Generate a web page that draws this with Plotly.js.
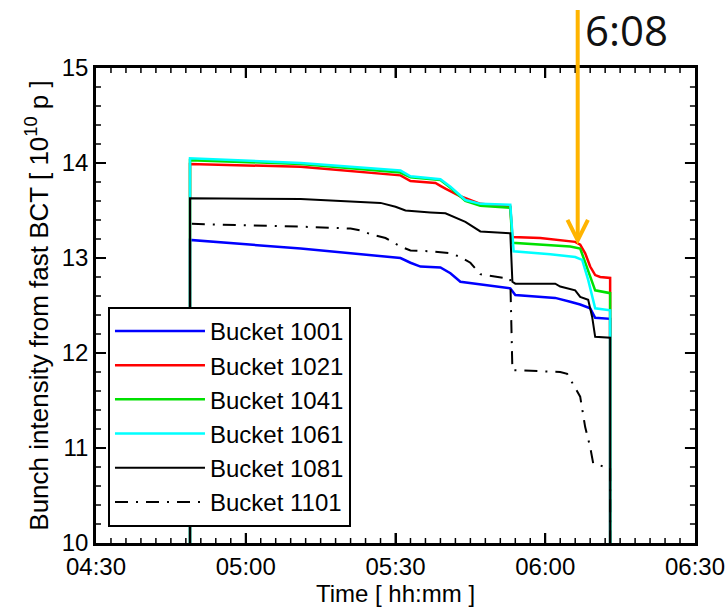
<!DOCTYPE html>
<html>
<head>
<meta charset="utf-8">
<script src="https://cdn.plot.ly/plotly-3.0.1.min.js"></script>
<style>
  html, body { margin: 0; padding: 0; background: #fff; }
  #chart { width: 728px; height: 608px; }
  #chart .modebar-container { display: none !important; }
</style>
</head>
<body>
<div id="chart"></div>
<script>
// Bunch intensities measured by the fast BCT during one fill (times hh:mm:ss).
const day = '2012-06-01 ';

const t1001 = ['04:48:50','04:48:50','05:11:00','05:31:00','05:33:00','05:35:00','05:39:00','05:41:00','05:43:00','05:47:00','05:53:00','05:54:00','06:02:00','06:05:00','06:07:00','06:09:00','06:10:00','06:13:00','06:13:00'];
const v1001 = [0, 13.19, 13.10, 13.00, 12.95, 12.91, 12.90, 12.84, 12.75, 12.72, 12.68, 12.61, 12.58, 12.54, 12.51, 12.47, 12.37, 12.36, 0];

const t1021 = ['04:48:50','04:48:50','05:11:00','05:31:00','05:33:00','05:38:00','05:39:00','05:40:00','05:43:00','05:47:00','05:53:00','05:53:25','05:59:00','06:06:00','06:07:00','06:08:00','06:09:00','06:10:00','06:11:00','06:13:00','06:13:00'];
const v1021 = [0, 13.99, 13.96, 13.87, 13.81, 13.79, 13.76, 13.73, 13.65, 13.57, 13.54, 13.22, 13.21, 13.17, 13.14, 13.05, 12.91, 12.82, 12.80, 12.79, 0];

const t1041 = ['04:48:50','04:48:50','05:11:00','05:31:00','05:33:00','05:39:00','05:41:00','05:44:00','05:47:00','05:53:00','05:53:25','06:05:00','06:07:00','06:08:00','06:09:00','06:10:00','06:13:00','06:13:00'];
const v1041 = [0, 14.03, 13.99, 13.90, 13.85, 13.82, 13.74, 13.60, 13.55, 13.53, 13.16, 13.12, 13.10, 12.95, 12.79, 12.66, 12.63, 0];

const t1061 = ['04:48:50','04:48:50','05:11:00','05:31:00','05:33:00','05:39:00','05:41:00','05:44:00','05:47:00','05:53:00','05:53:40','06:01:00','06:06:00','06:07:24','06:08:36','06:10:00','06:13:00','06:13:00'];
const v1061 = [0, 14.05, 14.00, 13.92, 13.86, 13.83, 13.75, 13.61, 13.57, 13.56, 13.07, 13.04, 13.01, 12.98, 12.77, 12.47, 12.45, 0];

const t1081 = ['04:48:50','04:48:50','05:11:00','05:25:00','05:27:00','05:30:00','05:32:00','05:37:00','05:40:00','05:44:00','05:47:00','05:53:00','05:53:25','05:54:00','06:02:00','06:03:00','06:06:00','06:07:00','06:08:36','06:09:24','06:10:00','06:13:00','06:13:00'];
const v1081 = [0, 13.63, 13.62, 13.59, 13.58, 13.54, 13.50, 13.48, 13.47, 13.38, 13.28, 13.26, 12.75, 12.73, 12.73, 12.70, 12.66, 12.59, 12.56, 12.38, 12.17, 12.16, 0];

const t1101 = ['04:48:50','04:48:50','05:11:00','05:21:00','05:23:00','05:25:00','05:28:00','05:31:00','05:33:00','05:37:00','05:41:00','05:43:00','05:45:00','05:47:00','05:53:00','05:53:25','06:03:00','06:04:24','06:07:00','06:08:00','06:09:00','06:09:36','06:12:00','06:13:00','06:13:00'];
const v1101 = [0, 13.36, 13.33, 13.31, 13.29, 13.25, 13.21, 13.12, 13.08, 13.07, 13.05, 13.01, 12.95, 12.83, 12.78, 11.82, 11.80, 11.78, 11.54, 11.22, 11.01, 10.84, 10.80, 10.79, 0];

const names = ['Bucket 1001','Bucket 1021','Bucket 1041','Bucket 1061','Bucket 1081','Bucket 1101'];
const colors = ['#0000ff','#ff0000','#00e000','#00ffff','#000000','#000000'];
const times = [t1001, t1021, t1041, t1061, t1081, t1101];
const values = [v1001, v1021, v1041, v1061, v1081, v1101];

// Time axis limits and the moment marked by the arrow
const xStart = '04:30:00';
const xEnd = '06:30:00';
const markTime = '06:06:30';
const markValue = 13.14;
const markLabel = '6:08';

// Axis tick steps
const xMajorMin = 30, xMinorMin = 3;
const yMin = 10, yMax = 15, yMajor = 1, yMinor = 0.2;

// Figure geometry
const W = 728, H = 608;
const M = {l: 96, r: 33, t: 68, b: 65};
const plotW = W - M.l - M.r, plotH = H - M.t - M.b;

const sans = '"Liberation Sans", Arial, sans-serif';

const traces = names.map((n, i) => ({
  type: 'scatter',
  mode: 'lines',
  name: n,
  x: times[i].map(t => day + t),
  y: values[i],
  line: {
    color: colors[i],
    width: i >= 4 ? 2 : 2.5,
    dash: i === 5 ? '13px,8px,2px,8px' : 'solid'
  },
  hoverinfo: 'skip'
}));

// Inward tick marks on all four sides of the frame, drawn as short line
// segments in axis units (lengths converted from pixels).
function stamp(ms) {
  return new Date(ms).toISOString().slice(0, 19).replace('T', ' ');
}
const x0ms = Date.parse(day.trim() + 'T' + xStart + 'Z');
const x1ms = Date.parse(day.trim() + 'T' + xEnd + 'Z');
const msPerPx = (x1ms - x0ms) / plotW;
const valPerPx = (yMax - yMin) / plotH;

function tickTrace(major) {
  const len = major ? 10 : 5;
  const xs = [], ys = [];
  const nX = Math.round((x1ms - x0ms) / (xMinorMin * 60000));
  for (let k = 1; k < nX; k++) {
    if (((k * xMinorMin) % xMajorMin === 0) !== major) continue;
    const t = stamp(x0ms + k * xMinorMin * 60000);
    xs.push(t, t, null, t, t, null);
    ys.push(yMin, yMin + len * valPerPx, null, yMax, yMax - len * valPerPx, null);
  }
  const nY = Math.round((yMax - yMin) / yMinor);
  const perMajor = Math.round(yMajor / yMinor);
  for (let k = 1; k < nY; k++) {
    if ((k % perMajor === 0) !== major) continue;
    const v = +(yMin + k * yMinor).toFixed(3);
    xs.push(stamp(x0ms), stamp(x0ms + len * msPerPx), null, stamp(x1ms), stamp(x1ms - len * msPerPx), null);
    ys.push(v, v, null, v, v, null);
  }
  return {
    type: 'scatter', mode: 'lines', x: xs, y: ys,
    line: {color: '#000000', width: major ? 2 : 1.5},
    showlegend: false, hoverinfo: 'skip', connectgaps: false
  };
}
traces.push(tickTrace(false), tickTrace(true));

const layout = {
  width: W,
  height: H,
  margin: M,
  paper_bgcolor: '#ffffff',
  plot_bgcolor: '#ffffff',
  showlegend: true,
  legend: {
    x: 0.02, y: 0.034, xanchor: 'left', yanchor: 'bottom',
    bgcolor: '#ffffff', bordercolor: '#000000', borderwidth: 2,
    font: {family: sans, size: 24, color: '#000'},
    itemwidth: 90,
    tracegroupgap: 0
  },
  xaxis: {
    type: 'date',
    range: [day + xStart, day + xEnd],
    dtick: xMajorMin * 60 * 1000,
    tick0: day + xStart,
    tickformat: '%H:%M',
    ticks: 'inside', ticklen: 10, tickwidth: 2, tickcolor: '#000000',
    showline: true, linewidth: 2.5, linecolor: '#000000', mirror: 'ticks',
    showgrid: false, zeroline: false,
    tickfont: {family: sans, size: 24, color: '#000'},
    title: {text: 'Time [ hh:mm ]', font: {family: sans, size: 24, color: '#000'}, standoff: 6}
  },
  yaxis: {
    range: [yMin, yMax],
    dtick: yMajor,
    ticks: 'inside', ticklen: 10, tickwidth: 2, tickcolor: '#000000',
    showline: true, linewidth: 2.5, linecolor: '#000000', mirror: 'ticks',
    showgrid: false, zeroline: false,
    tickfont: {family: sans, size: 24, color: '#000'},
    title: {text: 'Bunch intensity from fast BCT [ 10<sup>10</sup> p ]', font: {family: sans, size: 26, color: '#000'}, standoff: 6}
  },
  annotations: [
    {
      x: day + markTime, y: markValue, xref: 'x', yref: 'y',
      text: ' ', showarrow: true,
      ax: 0, ay: -270, axref: 'pixel', ayref: 'pixel',
      arrowcolor: '#ffb400', arrowwidth: 4, arrowhead: 5, arrowsize: 1, standoff: 0
    },
    {
      x: day + markTime, y: 1.08, xref: 'x', yref: 'paper',
      text: markLabel, showarrow: false,
      xanchor: 'left', yanchor: 'middle', xshift: 5,
      font: {family: '"Open Sans", sans-serif', size: 42, color: '#111'}
    }
  ]
};

Plotly.newPlot('chart', traces, layout);
</script>
</body>
</html>
